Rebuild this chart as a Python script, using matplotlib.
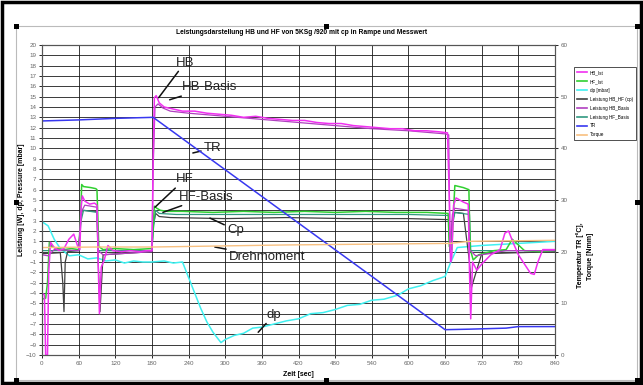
import matplotlib
matplotlib.use('Agg')
import matplotlib.pyplot as plt
from matplotlib.patches import Rectangle
from matplotlib.lines import Line2D

plt.rcParams['font.family'] = ['Liberation Sans', 'DejaVu Sans']

# ---- data ----
hb_t = [0, 4, 6, 9, 11, 14, 20, 28, 36, 44, 52, 58, 62, 64, 66, 70, 78, 86, 90, 92, 94, 97, 102, 108, 116, 130, 145, 160, 172, 180,
        182, 184, 187, 192, 200, 215, 230, 250, 270, 290, 310, 330, 350, 370, 390, 410, 430, 450, 470, 490, 510, 530, 550, 570,
        590, 610, 630, 650, 664, 667, 669, 671, 674, 678, 690, 698, 700, 702, 705, 712, 720, 735, 750, 758, 764, 772, 780, 800,
        806, 812, 820, 840]
hb_v = [-4.0, -4.2, -10.0, -10.0, -2.0, 0.9, 0.4, 0.1, 0.3, 1.2, 1.7, 0.6, 0.2, 4.2, 5.4, 4.9, 4.6, 4.7, 4.5, -1.0, -6.0, -1.5, -0.8, 0.6, 0.1, 0.0, 0.1, 0.0, 0.1, 0.1,
        9.0, 14.9, 15.1, 14.4, 14.0, 13.8, 13.6, 13.6, 13.4, 13.3, 13.2, 13.0, 13.1, 12.9, 12.8, 12.7, 12.7, 12.5, 12.4, 12.4, 12.2, 12.1, 12.0, 11.9,
        11.9, 11.7, 11.7, 11.6, 11.5, 5.0, -1.0, -0.5, 4.5, 5.2, 4.8, 4.6, -2.0, -6.5, -1.0, -1.8, -1.2, -0.3, 0.2, 1.8, 2.0, 0.8, -0.3, -2.1,
        -2.2, -1.0, 0.2, 0.2]

hbb_t = [0, 10, 20, 60, 64, 70, 90, 92, 100, 180, 182, 185, 190, 198, 210, 240, 300, 360, 420, 480, 540, 600, 660, 666, 668, 672, 676, 698, 700, 710, 760, 840]
hbb_v = [-0.3, -0.4, 0.2, 0.1, 3.8, 4.5, 4.3, 0.1, -0.3, 0.0, 8.0, 14.0, 14.3, 13.9, 13.6, 13.4, 13.1, 12.8, 12.5, 12.2, 11.9, 11.7, 11.4, 11.3, 0.3, 3.6, 4.2, 4.0, 0.2, -0.4, 0.1, 0.1]

hf_t = [0, 6, 9, 12, 16, 24, 36, 48, 60, 63, 65, 68, 80, 88, 90, 93, 100, 120, 150, 180, 182, 184, 188, 194, 205, 230, 280, 330, 380, 430,
        480, 530, 580, 630, 665, 667, 671, 673, 676, 690, 699, 701, 706, 715, 740, 760, 770, 790, 815, 840]
hf_v = [-4.6, -4.5, -3.0, 0.9, 0.5, 0.3, 0.2, 0.3, 0.2, 3.0, 6.5, 6.3, 6.2, 6.1, 6.0, 0.5, 0.2, 0.3, 0.2, 0.3, 2.5, 4.4, 4.2, 4.0, 3.9, 3.9, 3.8, 3.9, 3.8, 3.9,
        3.8, 3.9, 3.8, 3.8, 3.7, 0.5, 0.2, 3.0, 6.4, 6.2, 6.0, 0.3, -0.8, -0.3, 0.1, 0.2, 1.2, 0.1, 0.0, 0.1]

hfb_t = [0, 60, 64, 68, 90, 92, 180, 182, 186, 192, 220, 400, 600, 666, 668, 672, 676, 700, 702, 840]
hfb_v = [0.1, 0.1, 3.0, 4.0, 3.8, 0.1, 0.1, 2.0, 4.0, 3.7, 3.6, 3.6, 3.6, 3.5, 0.1, 2.5, 3.8, 3.6, 0.1, 0.1]

cp_t = [0, 30, 34, 36, 38, 42, 60, 64, 66, 90, 92, 95, 100, 180, 182, 186, 192, 210, 300, 400, 500, 600, 666, 668, 672, 676, 690, 700, 703, 720, 840]
cp_v = [-0.2, -0.1, -3.0, -5.8, -1.0, 0.0, 0.1, 3.5, 4.0, 3.9, -1.0, -5.8, -0.3, 0.0, 2.5, 3.7, 3.4, 3.3, 3.2, 3.3, 3.2, 3.2, 3.1, 0.0, 3.0, 3.8, 3.7, -1.0, -3.5, -0.2, 0.0]

dp_t = [0, 10, 20, 30, 45, 60, 75, 90, 105, 120, 135, 150, 165, 180, 200, 215, 230, 240, 250, 260, 270, 280, 293, 300, 315, 330, 345, 360, 380,
        400, 420, 440, 460, 480, 500, 520, 540, 560, 583, 600, 620, 640, 660, 668, 680, 700, 720, 750, 780, 810, 840]
dp_v = [2.9, 2.5, 1.2, 0.3, -0.4, -0.3, -0.7, -0.6, -0.9, -0.8, -1.1, -0.9, -1.0, -1.0, -0.9, -1.1, -1.0, -2.5, -4.0, -5.5, -6.8, -7.8, -8.8, -8.5, -8.1, -7.9, -7.4, -7.3, -7.0,
        -6.7, -6.5, -6.0, -5.9, -5.6, -5.2, -5.1, -4.7, -4.6, -4.2, -3.6, -3.3, -2.8, -2.4, -1.2, 0.4, 0.5, 0.6, 0.7, 0.8, 0.9, 1.0]

tr_t = [0, 60, 120, 182, 660, 700, 760, 780, 840]
tr_v = [45.3, 45.5, 45.8, 46.0, 4.9, 5.0, 5.2, 5.5, 5.5]

tq_t = [0, 90, 180, 400, 668, 700, 840]
tq_v = [20.8, 20.9, 20.9, 21.3, 21.6, 22.0, 22.2]

legend_labels = ['HB_Ist', 'HF_Ist', 'dp [mbar]', 'Leistung HB_HF (cp)', 'Leistung HB_Basis', 'Leistung HF_Basis', 'TR', 'Torque']
colors = ['#f030f0', '#30d030', '#40f0f0', '#404040', '#b040c0', '#309880', '#3838f0', '#f8c080']

W, H = 643, 385
fig = plt.figure(figsize=(W / 100, H / 100), dpi=100)
ax = fig.add_axes([42 / W, 1 - 355 / H, (555 - 42) / W, (355 - 45) / H])
ax2 = ax.twinx()

ax.plot(dp_t, dp_v, color=colors[2], lw=1.1)
ax.plot(cp_t, cp_v, color=colors[3], lw=0.9)
ax.plot(hfb_t, hfb_v, color=colors[5], lw=0.9)
ax.plot(hf_t, hf_v, color=colors[1], lw=1.1)
ax.plot(hbb_t, hbb_v, color=colors[4], lw=0.9)
ax.plot(hb_t, hb_v, color=colors[0], lw=1.1)
ax2.plot(tr_t, tr_v, color=colors[6], lw=1.1)
ax2.plot(tq_t, tq_v, color=colors[7], lw=1.0)

ax.set_xlim(0, 840)
ax.set_ylim(-10, 20)
ax2.set_ylim(0, 60)
ax.set_xticks(range(0, 841, 60))
ax.set_yticks(range(-10, 21))
ax2.set_yticks(range(0, 61, 10))
ax.grid(True, color='#1a1a1a', lw=0.6)
ax.set_axisbelow(True)
for a in (ax, ax2):
    a.tick_params(labelsize=4.5, labelcolor='#666666', length=2, width=0.6, pad=2)
    for s in a.spines.values():
        s.set_color('#555555')
        s.set_linewidth(0.8)

fig.suptitle('Leistungsdarstellung HB und HF von 5KSg /920 mit cp in Rampe und Messwert',
             x=(162 + 442) / 2 / W, y=1 - 33 / H, fontsize=4.8, fontweight='bold', va='center')
ax.set_xlabel('Zeit [sec]', fontsize=5, fontweight='bold', labelpad=4)
fig.text(22 / W, 1 - 200 / H, 'Leistung [W], dp, Pressure [mbar]', rotation=90,
         fontsize=5, fontweight='bold', ha='center', va='center')
fig.text(580 / W, 1 - 255 / H, 'Temperatur TR [°C],', rotation=90,
         fontsize=5, fontweight='bold', ha='center', va='center')
fig.text(591 / W, 1 - 256 / H, 'Torque [Nmm]', rotation=90,
         fontsize=5, fontweight='bold', ha='center', va='center')

# leader-line labels
notes = [('HB', (191, 14.9), (219, 18.3)),
         ('HB-Basis', (209, 14.7), (229, 15.9)),
         ('TR', (247, 9.55), (265, 10.0)),
         ('HF', (185, 4.3), (219, 7.0)),
         ('HF-Basis', (198, 3.8), (224, 5.3)),
         ('Cp', (275, 3.25), (303, 2.1)),
         ('Drehmoment', (283, 0.45), (306, -0.5)),
         ('dp', (354, -7.8), (368, -6.1))]
for txt, xy, xyt in notes:
    ax.annotate(txt, xy=xy, xytext=xyt, fontsize=9.5, color='#222222', ha='left', va='center',
                arrowprops=dict(arrowstyle='-', color='#111111', lw=1.1, shrinkA=0, shrinkB=0))

handles = [Line2D([0], [0], color=c, lw=1.2) for c in colors]
leg = fig.legend(handles, legend_labels, loc='upper left', bbox_to_anchor=(572 / W, 1 - 65 / H),
                 fontsize=3.3, handlelength=2.2, handletextpad=0.6, labelspacing=0.85, borderpad=0.6,
                 fancybox=False, framealpha=1, edgecolor='#333333')
leg.get_frame().set_linewidth(0.6)

# chart frame, outer border and selection handles
fig.patches.append(Rectangle((16 / W, 1 - 380 / H), (637 - 16) / W, (380 - 26) / H, transform=fig.transFigure,
                             fill=False, ec='#bbbbbb', lw=0.8))
fig.patches.append(Rectangle((2 / W, 2 / H), (W - 4) / W, (H - 4) / H, transform=fig.transFigure,
                             fill=False, ec='black', lw=2.5))
for hx in (16, 327, 637):
    for hy in (26, 202, 380):
        if hx == 327 and hy == 202:
            continue
        fig.patches.append(Rectangle(((hx - 2.5) / W, 1 - (hy + 2.5) / H), 5 / W, 5 / H,
                                     transform=fig.transFigure, fc='black', ec='none'))

fig.savefig('out.png', dpi=100)
